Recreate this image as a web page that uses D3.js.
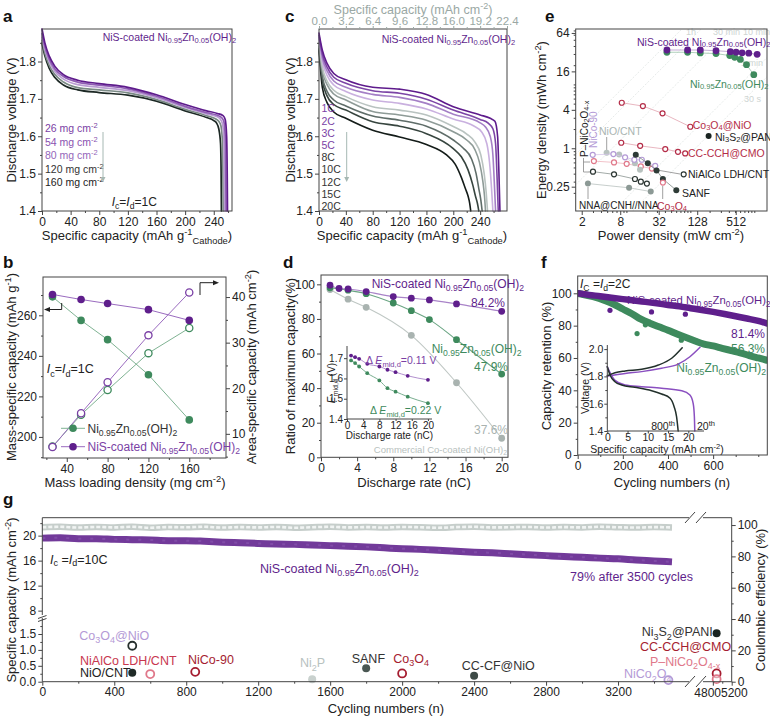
<!DOCTYPE html>
<html><head><meta charset="utf-8">
<script src="https://cdn.jsdelivr.net/npm/d3@7"></script>
<style>body{margin:0;background:#fff} svg{display:block}</style>
</head><body><svg id="c" width="770" height="718"></svg>
<script>
// ================= DATA =================
// Panel a: discharge curves (1C) for several mass loadings
const aLoadings = ['26', '54', '80', '120', '160'];
const aCapacity = [
  [0,4,10,18,30,50,80,120,160,200,230,245,253,256,258,258.8,259.2],
  [0,4,10,18,30,50,80,120,160,200,230,245,251,254,256,256.8,257.2],
  [0,4,10,18,30,50,80,120,160,200,230,245,249,252,254,254.8,255.2],
  [0,4,10,18,30,50,80,120,160,200,230,243,247,250,252,252.8,253.2],
  [0,4,10,18,30,50,80,120,160,200,230,240,244,247,249.5,250.3,250.7]];
const aVoltage = [
  [1.887,1.85,1.815,1.787,1.765,1.75,1.741,1.731,1.711,1.685,1.668,1.661,1.655,1.645,1.6,1.5,1.4],
  [1.875,1.84,1.807,1.78,1.76,1.745,1.737,1.727,1.707,1.68,1.663,1.656,1.65,1.64,1.6,1.5,1.4],
  [1.865,1.832,1.8,1.773,1.753,1.738,1.731,1.722,1.703,1.677,1.66,1.652,1.646,1.635,1.6,1.5,1.4],
  [1.857,1.823,1.79,1.765,1.745,1.73,1.724,1.716,1.698,1.672,1.655,1.646,1.64,1.628,1.59,1.5,1.4],
  [1.849,1.815,1.782,1.757,1.737,1.724,1.717,1.71,1.694,1.668,1.65,1.642,1.635,1.62,1.58,1.5,1.4]];
const aTicksX = [0,40,80,120,160,200,240];
const aTicksY = [1.4,1.5,1.6,1.7,1.8];

// Panel c: discharge curves at different rates
const cRates = ['1C','2C','3C','5C','8C','10C','12C','15C','20C'];
const cCapacity = [
  [0,5,12,22,40,80,120,160,200,240,255,262,266,268,269.5],
  [0,5,12,22,40,80,120,160,200,240,252,259,263,265,267],
  [0,5,12,22,40,80,120,160,200,240,248,255,259,261,263],
  [0,5,12,22,40,80,120,160,200,230,242,250,254,257,259],
  [0,5,12,22,40,80,120,160,200,220,232,241,246,249,251],
  [0,5,12,22,40,80,120,160,200,220,232,239,244,246.5,248],
  [0,5,12,22,40,80,120,160,200,215,227,234,238,241,243],
  [0,5,12,22,40,80,120,160,200,212,222,229,233,236,238],
  [0,5,12,22,40,80,120,160,190,203,212,218,222,224.5,226]];
const cVoltage = [
  [1.876,1.83,1.795,1.768,1.751,1.731,1.726,1.712,1.679,1.657,1.648,1.64,1.6,1.5,1.4],
  [1.87,1.82,1.785,1.758,1.742,1.722,1.715,1.699,1.67,1.645,1.635,1.62,1.58,1.5,1.4],
  [1.865,1.81,1.775,1.748,1.731,1.712,1.704,1.688,1.659,1.636,1.625,1.6,1.55,1.48,1.4],
  [1.86,1.8,1.763,1.737,1.72,1.697,1.688,1.673,1.646,1.628,1.612,1.58,1.53,1.46,1.4],
  [1.85,1.785,1.748,1.723,1.706,1.679,1.67,1.657,1.626,1.606,1.585,1.55,1.5,1.45,1.4],
  [1.845,1.775,1.738,1.713,1.697,1.666,1.657,1.643,1.612,1.59,1.565,1.53,1.48,1.44,1.4],
  [1.84,1.76,1.72,1.697,1.681,1.654,1.643,1.627,1.59,1.568,1.54,1.5,1.46,1.43,1.4],
  [1.835,1.75,1.708,1.685,1.67,1.639,1.627,1.607,1.567,1.545,1.51,1.47,1.44,1.42,1.4],
  [1.83,1.73,1.69,1.665,1.648,1.616,1.598,1.578,1.55,1.525,1.49,1.46,1.44,1.42,1.4]];
const cTopTicks = [0,3.2,6.4,9.6,12.8,16.0,19.2,22.4];

// Panel e: Ragone plot (power density mW cm-2, energy density mWh cm-2)
const eNiS_P = [43,90.5,143,252,422,519,644,820,1108];
const eNiS_E = [34.6,34.6,34.6,33.7,32.6,32.0,31.2,30.9,29.6];
const eNZ_P = [43,90.5,143,252,413,494,605,755,982];
const eNZ_E = [31.9,31.9,31.1,30.4,28.3,26.6,24.6,20.4,14.2];
const eCoNiO_P = [8.46,18.1,36.7,99.8], eCoNiO_E = [5.16,4.58,3.52,2.17];
const eCCCH_P = [8.3,16.4,40.5,64,83], eCCCH_E = [1.22,1.09,0.97,0.88,0.83];
const eNi3S2_P = [193], eNi3S2_E = [1.56];
const eNiCo90_P = [2.97,6.26,9.53,13.3,17.4,28.2], eNiCo90_E = [0.79,0.81,0.72,0.66,0.66,0.53];
const eNiOCNT_P = [4.9,7.7,13.6,16.3], eNiOCNT_E = [0.85,0.8,0.58,0.46];
const ePNiCo_P = [3.1,6.4,10.1,16.8,25], ePNiCo_E = [0.63,0.6,0.57,0.52,0.48];
const eNiAlCo_P = [3.0,6.4,13.6,16.8,20.9], eNiAlCo_E = [0.43,0.39,0.33,0.30,0.28];
const eSANF_P = [14,21.6,29.6,37.2,60.3], eSANF_E = [0.79,0.58,0.45,0.33,0.22];
const eNNA_P = [2.5,11,24], eNNA_E = [0.28,0.24,0.21];
const eCo3O4_P = [37.2], eCo3O4_E = [0.29];
const eNiAlCoTag_P = [78.6], eNiAlCoTag_E = [0.39];
const eTimeHours = [1, 0.5, 1/6, 1/60, 1/120];
const eTimeLabels = ['1h','30 min','10 min','1 min','30 s'];
const eTicksX = [2,8,32,128,512];
const eTicksY = [0.25,1,4,16,64];

// Panel b: capacity vs mass loading
const bLoading = [26,54,80,120,160];
const bMassNZ = [269.1,257.5,248.0,230.7,208.4];
const bMassNiS = [270.3,267.8,265.8,262.8,257.5];
const bAreaNZ = [7.2,14.2,19.6,27.7,33.2];
const bAreaNiS = [7.1,14.5,21.3,31.6,41.0];

// Panel d: rate capability
const dRate = [1,2,3,5,8,10,12,15,20];
const dNiS = [99.5,97.6,97.3,95.8,92.9,92.0,91.0,88.7,84.4];
const dRateNZ = [1,3,5,8,10,12,15,20];
const dNZ = [98.0,96.6,94.6,89.2,84.8,79.6,68.0,48.1];
const dRateCom = [1,3,5,10,15,20];
const dCom = [97.0,91.4,86.7,70.5,43.1,11.0];
const diNiS = [1.713,1.705,1.697,1.672,1.659,1.643,1.631,1.613,1.593];
const diNZ = [1.689,1.676,1.659,1.626,1.59,1.552,1.535,1.51,1.478];

// Panel f: cycling at 2C
const fCycNiS = [0,50,100,150,200,250,300,350,400,450,500,550,600,650,700,750,800,838];
const fNiS = [100,99,98.2,97.3,96.4,95.6,94.7,93.8,92.8,91.9,90.8,89.7,88.5,87.2,85.8,84.4,82.9,81.4];
const fCycNZ = [0,40,80,120,160,200,240,280,320,360,400,440,480,520,560,600,640,680,720,760,800,838];
const fNZ = [100,98.8,97.5,95.5,93.2,90.3,87.4,84,81.5,79.3,77.2,74.8,72.6,70.5,68.6,67.5,66,64.6,63.2,61.5,60,58.6];
const fOutCycNiS = [143,327,477], fOutNiS = [89.5,88.5,87.1];
const fOutCycNZ = [263,459,300], fOutNZ = [75.1,71.0,80.5];
// Panel f inset: voltage profiles (mAh cm-2, V)
const fiChg800Cap = [0,1.9,4.4,8.5,12.6,15.9,18.5], fiChg800V = [1.805,1.827,1.84,1.852,1.883,1.933,2.01];
const fiChg20Cap = [0,4.4,8.5,13.4,17.5,20.4,22.9], fiChg20V = [1.803,1.822,1.835,1.86,1.89,1.944,2.013];
const fiDis800Cap = [0,0.67,1.9,3.55,6.8,10.96,13.4,15.5,16.5,17.1,17.5];
const fiDis800V = [1.871,1.81,1.761,1.737,1.72,1.695,1.671,1.64,1.578,1.505,1.4];
const fiDis20Cap = [0,1.9,4.4,8.5,13.4,18.4,20.4,21.2,21.5,21.6];
const fiDis20V = [1.871,1.771,1.737,1.725,1.713,1.695,1.664,1.603,1.505,1.4];

// Panel g: long cycling at 10C
const gCycles = [0,100,200,300,400,500,600,700,800,900,1000,1100,1200,1300,1400,1500,1600,1700,1800,1900,2000,2100,2200,2300,2400,2500,2600,2700,2800,2900,3000,3100,3200,3300,3400,3500];
const gCapacity = [19.6,19.65,19.5,19.5,19.4,19.35,19.3,19.2,19.2,19.1,18.95,18.85,18.75,18.65,18.6,18.5,18.4,18.3,18.2,18.05,17.9,17.8,17.65,17.5,17.35,17.25,17.1,16.95,16.8,16.65,16.55,16.4,16.3,16.1,15.95,15.8];
const gEfficiency = [98.6,98.9,98.4,98.8,98.5,98.9,98.3,98.7,98.6,98.9,98.4,98.7,98.5,98.8,98.3,98.6,98.9,98.5,98.7,98.4,98.8,98.6,98.3,98.7,98.9,98.5,98.6,98.8,98.4,98.7,98.5,98.9,98.6,98.4,98.7,98.5];
const gRefNames = ['Co_{3}O_{4}@NiO','NiO/CNT','NiAlCo LDH/CNT','NiCo-90','Ni_{2}P','SANF','Co_{3}O_{4}','CC-CF@NiO','NiCo_{2}O_{4}','Ni_{3}S_{2}@PANI','CC-CCH@CMO','P\u2013NiCo_{2}O_{4-x}'];
const gRefCycles = [500,500,600,850,1500,1800,2000,2400,3480,4880,4880,4880];
const gRefCapacity = [1.13,0.28,0.24,0.31,0.08,0.42,0.26,0.19,0.05,1.52,0.26,0.08];
const gTicksX = [0,400,800,1200,1600,2000,2400,2800,3200];

// ================= DRAWING =================
const FONT = "'Liberation Sans', Arial, Helvetica, sans-serif";
const PUR = '#5f1f8c', GRN = '#3e8a5d', GRY = '#a9b3b0', CRIM = '#b42d48', DRED = '#a51d30',
      PINK = '#e0788a', LPUR = '#b49ad6', DARK = '#26302d';
const TF = 13, KF = 12; // title / tick font sizes
const svg = d3.select('#c').attr('font-family', FONT);
svg.append('rect').attr('width', 770).attr('height', 718).attr('fill', '#fff');

function rt(x, y, str, o = {}) {
  const fs = o.fs || 12;
  const t = svg.append('text').attr('x', x).attr('y', y).attr('font-size', fs)
    .attr('fill', o.fill || '#222').attr('text-anchor', o.anchor || 'start').attr('font-family', FONT);
  if (o.rot) t.attr('transform', `rotate(${o.rot},${x},${y})`);
  if (o.bold) t.attr('font-weight', 'bold');
  const re = /([_^*])\{([^}]*)\}/g;
  let last = 0, m, shift = 0;
  const sub = o.sub === undefined ? 0.28 : o.sub;
  const add = (s, type) => {
    if (!s) return;
    const ts = t.append('tspan').text(s);
    let target = 0;
    if (type === '_') { ts.attr('font-size', fs * 0.72); target = fs * sub; }
    else if (type === '^') { ts.attr('font-size', fs * 0.72); target = -fs * 0.38; }
    else if (type === '*') ts.attr('font-style', 'italic');
    if (target !== shift) { ts.attr('dy', target - shift); shift = target; }
  };
  while ((m = re.exec(str))) { add(str.slice(last, m.index), null); add(m[2], m[1]); last = re.lastIndex; }
  add(str.slice(last), null);
  return t;
}
function ax(orient, scale, pos, ticks, o = {}) {
  const a = orient === 'b' ? d3.axisBottom(scale) : orient === 'l' ? d3.axisLeft(scale)
          : orient === 'r' ? d3.axisRight(scale) : d3.axisTop(scale);
  a.tickValues(ticks).tickSize(o.size || 4).tickPadding(o.pad === undefined ? 2 : o.pad).tickSizeOuter(0);
  a.tickFormat(o.fmt || d3.format('d'));
  const tr = (orient === 'b' || orient === 't') ? `translate(0,${pos})` : `translate(${pos},0)`;
  const g = svg.append('g').attr('transform', tr).call(a);
  g.select('.domain').remove();
  g.selectAll('line').attr('stroke', o.color || '#444');
  g.selectAll('text').attr('font-size', o.fs || KF).attr('fill', o.tc || '#222').attr('font-family', FONT);
  return g;
}
function minor(orient, scale, pos, ticks, o = {}) {
  return ax(orient, scale, pos, ticks, Object.assign({}, o, { size: o.size || 2, fmt: () => '' }));
}
function frame(x0, y0, x1, y1) {
  svg.append('rect').attr('x', x0).attr('y', y0).attr('width', x1 - x0).attr('height', y1 - y0)
    .attr('fill', 'none').attr('stroke', '#444').attr('stroke-width', 1);
}
function path(pts, xs, ys, color, w, curve) {
  svg.append('path').datum(pts)
    .attr('d', d3.line().x(d => xs(d[0])).y(d => ys(d[1])).curve(curve || d3.curveMonotoneX))
    .attr('fill', 'none').attr('stroke', color).attr('stroke-width', w).attr('stroke-linejoin', 'round').attr('stroke-linecap', 'round');
}
function dots(xsArr, ysArr, xs, ys, r, fill, stroke, sw) {
  svg.append('g').selectAll('circle').data(xsArr.map((v, i) => [v, ysArr[i]])).join('circle')
    .attr('cx', d => xs(d[0])).attr('cy', d => ys(d[1])).attr('r', r)
    .attr('fill', fill).attr('stroke', stroke || 'none').attr('stroke-width', sw || 0);
}
function zip(a, b) { return a.map((v, i) => [v, b[i]]); }
function arrowDown(x, y0, y1, color) {
  svg.append('line').attr('x1', x).attr('x2', x).attr('y1', y0).attr('y2', y1 - 4).attr('stroke', color).attr('stroke-width', 1);
  svg.append('path').attr('d', `M${x - 2.5},${y1 - 5}L${x + 2.5},${y1 - 5}L${x},${y1}Z`).attr('fill', color);
}
const NIS = 'NiS-coated Ni_{0.95}Zn_{0.05}(OH)_{2}';
const NZ = 'Ni_{0.95}Zn_{0.05}(OH)_{2}';
const f1 = d3.format('.1f');

// ---------- Panel a ----------
{
  const xs = d3.scaleLinear().domain([0, 265.5]).range([42, 232]);
  const ys = d3.scaleLinear().domain([1.4, 1.887]).range([211, 29]);
  const cols = ['#5e1b8c', '#8f5cb4', '#b99dd2', '#7a8a85', '#1c2824'];
  for (let i = aCapacity.length - 1; i >= 0; i--) path(zip(aCapacity[i], aVoltage[i]), xs, ys, cols[i], 1.7);
  frame(42, 29, 232, 211);
  ax('b', xs, 211, aTicksX); minor('b', xs, 211, [20,60,100,140,180,220,260]);
  ax('l', ys, 42, aTicksY, { fmt: f1 }); minor('l', ys, 42, [1.45,1.55,1.65,1.75,1.85]);
  rt(102.7, 40.5, NIS, { fs: 10.5, fill: PUR });
  const lc = ['#7b3fa5', '#8a52b0', '#9466ba', '#333', '#222'];
  aLoadings.forEach((l, i) => rt(45, 132 + i * 13.5, l + ' mg cm^{-2}', { fs: 10.5, fill: lc[i] }));
  arrowDown(103, 132, 182, '#a6b8b3');
  rt(111.7, 206, '*{I}_{c}=*{I}_{d}=1C', { fs: 12 });
  rt(16, 120, 'Discharge voltage (V)', { fs: TF, anchor: 'middle', rot: -90 });
  rt(137, 240, 'Specific capacity (mAh g^{-1}_{Cathode})', { fs: TF, anchor: 'middle' });
  rt(3, 22, 'a', { fs: 17, bold: true, fill: '#111' });
}

// ---------- Panel c ----------
{
  const xs = d3.scaleLinear().domain([0, 280]).range([319, 507]);
  const xt = d3.scaleLinear().domain([0, 22.4]).range([319, 507]);
  const ys = d3.scaleLinear().domain([1.4, 1.887]).range([211, 29]);
  const cols = ['#5e1b8c','#7c45a6','#a47fc6','#c9b0df','#b9c3c0','#8e9b97','#5f6d69','#37453f','#141c19'];
  for (let i = cCapacity.length - 1; i >= 0; i--) path(zip(cCapacity[i], cVoltage[i]), xs, ys, cols[i], 1.6);
  frame(319, 29, 507, 211);
  ax('b', xs, 211, aTicksX); minor('b', xs, 211, [20,60,100,140,180,220,260]);
  ax('l', ys, 319, aTicksY, { fmt: f1 }); minor('l', ys, 319, [1.45,1.55,1.65,1.75,1.85]);
  ax('t', xt, 29, cTopTicks, { fmt: f1, color: '#9aa8a4', tc: '#9aa8a4', fs: 11.5, size: 3, pad: 1 });
  minor('t', xt, 29, [1.6,4.8,8,11.2,14.4,17.6,20.8], { color: '#9aa8a4' });
  rt(413, 14, 'Specific capacity (mAh cm^{-2})', { fs: 12.5, anchor: 'middle', fill: '#9aa8a4' });
  rt(381.7, 42.5, NIS, { fs: 10.5, fill: PUR });
  cRates.forEach((r, i) => rt(321.5, 112.3 + i * 12.2, r, { fs: 10.5, fill: i < 4 ? '#7b3fa5' : '#333' }));
  arrowDown(346.7, 132, 182, '#a6b8b3');
  rt(295, 120, 'Discharge voltage (V)', { fs: TF, anchor: 'middle', rot: -90 });
  rt(412, 240, 'Specific capacity (mAh g^{-1}_{Cathode})', { fs: TF, anchor: 'middle' });
  rt(285, 22, 'c', { fs: 17, bold: true, fill: '#111' });
}

// ---------- Panel e ----------
{
  const xs = d3.scaleLog().base(2).domain([1.61, 1580]).range([575.7, 767]);
  const ys = d3.scaleLog().base(2).domain([0.104, 73.8]).range([211, 29]);
  svg.append('clipPath').attr('id', 'clipE').append('rect').attr('x', 575.7).attr('y', 29).attr('width', 191.3).attr('height', 182);
  const tl = svg.append('g').attr('clip-path', 'url(#clipE)');
  eTimeHours.forEach(t => {
    tl.append('line').attr('x1', xs(1.61)).attr('y1', ys(1.61 * t)).attr('x2', xs(1580)).attr('y2', ys(1580 * t))
      .attr('stroke', '#e3e8e6').attr('stroke-width', 0.9).attr('stroke-dasharray', '2,1.5');
  });
  const tlPos = [[686, 35], [713, 35], [743, 35], [741, 66], [744, 102]];
  eTimeLabels.forEach((l, i) => rt(tlPos[i][0], tlPos[i][1], l, { fs: 9, fill: '#cdd4d2' }));
  const ser = (P, E, color, fill, lc) => {
    path(zip(P, E), xs, ys, lc || color, 0.8, d3.curveLinear);
    dots(P, E, xs, ys, fill === 'open' ? 2.5 : 3, fill === 'open' ? '#fff' : color, fill === 'open' ? color : 'none', 1.2);
  };
  const cl = (pts) => svg.append('path').attr('d', d3.line()(pts)).attr('fill', 'none').attr('stroke', '#888').attr('stroke-width', 0.8);
  cl([[583.5, 158], [583.5, 172], [590, 172]]); cl([[583.5, 162], [590, 162]]);
  cl([[606.7, 137], [606.7, 150]]);
  cl([[662.7, 186], [662.7, 199]]);
  cl([[657, 170], [680, 174]]);
  cl([[588, 187], [588, 199]]);
  ser(eNNA_P, eNNA_E, '#8c9995', 'filled', '#b9c2bf');
  ser(eNiAlCo_P, eNiAlCo_E, '#2b3532', 'open', '#8a9491');
  ser(ePNiCo_P, ePNiCo_E, PINK, 'open', '#efb4bd');
  ser(eNiOCNT_P, eNiOCNT_E, '#b8c2bf', 'filled', '#d5dbd9');
  ser(eNiCo90_P, eNiCo90_E, LPUR, 'open', '#d5c6ea');
  ser(eSANF_P, eSANF_E, '#2e3b37', 'filled', '#7d8885');
  ser(eCo3O4_P, eCo3O4_E, PINK, 'open');
  ser(eNiAlCoTag_P, eNiAlCoTag_E, '#2b3532', 'open');
  ser(eCCCH_P, eCCCH_E, CRIM, 'open', '#e2a3b0');
  ser(eCoNiO_P, eCoNiO_E, CRIM, 'open', '#e2a3b0');
  ser(eNi3S2_P, eNi3S2_E, '#1a2421', 'filled');
  path(zip(eNZ_P, eNZ_E), xs, ys, '#9cc4ab', 0.8, d3.curveLinear);
  dots(eNZ_P, eNZ_E, xs, ys, 3.4, GRN);
  path(zip(eNiS_P, eNiS_E), xs, ys, '#b69bcb', 0.8, d3.curveLinear);
  dots(eNiS_P, eNiS_E, xs, ys, 3.4, PUR);
  frame(575.7, 29, 767, 211);
  const lab = v => String(v);
  ax('b', xs, 211, eTicksX, { fmt: lab });
  minor('b', xs, 211, [3,4,5,6,7,9,10,20,30,40,50,60,70,80,90,100,200,300,400,500,600,700,800,900,1000]);
  ax('l', ys, 575.7, eTicksY, { fmt: lab });
  minor('l', ys, 575.7, [0.2,0.3,0.4,0.5,0.6,0.7,0.8,0.9,2,3,5,6,7,8,9,10,20,30,40,50,60,70]);
  rt(637, 46, NIS, { fs: 10.5, fill: PUR, sub: 0.1 });
  rt(690, 87.5, NZ, { fs: 10.5, fill: GRN, sub: 0.1 });
  rt(692.7, 129, 'Co_{3}O_{4}@NiO', { fs: 10.5, fill: CRIM, sub: 0.1 });
  rt(715, 140.5, 'Ni_{3}S_{2}@PANI', { fs: 10.5, fill: '#222', sub: 0.1 });
  rt(688, 157, 'CC-CCH@CMO', { fs: 10.5, fill: CRIM });
  rt(688, 178, 'NiAlCo LDH/CNT', { fs: 10.5, fill: '#222' });
  rt(682, 196.5, 'SANF', { fs: 10.5, fill: '#222' });
  rt(579, 208.5, 'NNA@CNH//NNA', { fs: 10, fill: '#222' });
  rt(657, 209.5, 'Co_{3}O_{4}', { fs: 10.5, fill: CRIM, sub: 0.1 });
  rt(599, 134.5, 'NiO/CNT', { fs: 10.5, fill: '#aab5b2' });
  rt(587.5, 157, 'P\u2013NiCo_{2}O_{4-x}', { fs: 10, fill: '#222', rot: -90, sub: 0.1 });
  rt(597, 148, 'NiCo-90', { fs: 10, fill: LPUR, rot: -90 });
  rt(546, 120, 'Energy density (mWh cm^{-2})', { fs: TF, anchor: 'middle', rot: -90 });
  rt(671, 240, 'Power density (mW cm^{-2})', { fs: TF, anchor: 'middle' });
  rt(545, 22, 'e', { fs: 17, bold: true, fill: '#111' });
}

// ---------- Panel b ----------
{
  const xs = d3.scaleLinear().domain([16.7, 196]).range([43, 226]);
  const yl = d3.scaleLinear().domain([189.6, 278.9]).range([458, 277]);
  const yr = d3.scaleLinear().domain([4.7, 44.4]).range([458, 277]);
  path(zip(bLoading, bAreaNZ), xs, yr, '#7fb393', 1, d3.curveLinear);
  path(zip(bLoading, bAreaNiS), xs, yr, '#9a6bbf', 1, d3.curveLinear);
  path(zip(bLoading, bMassNZ), xs, yl, '#7fb393', 1, d3.curveLinear);
  path(zip(bLoading, bMassNiS), xs, yl, '#9a6bbf', 1, d3.curveLinear);
  dots(bLoading, bAreaNZ, xs, yr, 3.6, '#fff', GRN, 1.3);
  dots(bLoading, bAreaNiS, xs, yr, 3.6, '#fff', '#7a3fa5', 1.3);
  dots(bLoading, bMassNZ, xs, yl, 3.8, GRN);
  dots(bLoading, bMassNiS, xs, yl, 3.8, PUR);
  frame(43, 277, 226, 458);
  ax('b', xs, 458, [40,80,120,160]); minor('b', xs, 458, [20,60,100,140,180]);
  ax('l', yl, 43, [200,220,240,260]); minor('l', yl, 43, [190,210,230,250,270]);
  ax('r', yr, 226, [10,20,30,40]); minor('r', yr, 226, [5,15,25,35]);
  svg.append('path').attr('d', 'M61.7,303V309.5H50').attr('fill', 'none').attr('stroke', '#222');
  svg.append('path').attr('d', 'M50,307L44,309.5L50,312Z').attr('fill', '#222');
  svg.append('path').attr('d', 'M200,295V282.7H213').attr('fill', 'none').attr('stroke', '#222');
  svg.append('path').attr('d', 'M213,280.2L219,282.7L213,285.2Z').attr('fill', '#222');
  svg.append('line').attr('x1', 61).attr('x2', 85).attr('y1', 428.3).attr('y2', 428.3).attr('stroke', '#7fb393');
  svg.append('circle').attr('cx', 73).attr('cy', 428.3).attr('r', 3.8).attr('fill', GRN);
  rt(87.5, 432.5, NZ, { fs: 12, fill: '#333' });
  svg.append('line').attr('x1', 61).attr('x2', 85).attr('y1', 446.7).attr('y2', 446.7).attr('stroke', '#9a6bbf');
  svg.append('circle').attr('cx', 73).attr('cy', 446.7).attr('r', 3.8).attr('fill', PUR);
  rt(87.5, 451, NIS, { fs: 12, fill: '#7a3fa5' });
  rt(46.7, 373, '*{I}_{c}=*{I}_{d}=1C', { fs: 12.5 });
  rt(16, 367, 'Mass-specific capacity (mAh g^{-1})', { fs: TF, anchor: 'middle', rot: -90 });
  rt(256, 367, 'Area-specific capacity (mAh cm^{-2})', { fs: TF, anchor: 'middle', rot: -90 });
  rt(135, 486.5, 'Mass loading density (mg cm^{-2})', { fs: TF, anchor: 'middle' });
  rt(3, 268, 'b', { fs: 17, bold: true, fill: '#111' });
}

// ---------- Panel d ----------
{
  const xs = d3.scaleLinear().domain([0, 20.7]).range([321, 508]);
  const ys = d3.scaleLinear().domain([0, 105.4]).range([457.3, 275]);
  path(zip(dRateCom, dCom), xs, ys, '#bfc7c4', 1.1);
  path(zip(dRateNZ, dNZ), xs, ys, '#6aa583', 1.1);
  path(zip(dRate, dNiS), xs, ys, '#a983c8', 1.1);
  dots(dRateCom, dCom, xs, ys, 3.4, GRY);
  dots(dRateNZ, dNZ, xs, ys, 3.4, GRN);
  dots(dRate, dNiS, xs, ys, 3.4, PUR);
  frame(321, 275, 508, 457.3);
  ax('b', xs, 457.3, [0,4,8,12,16,20]); minor('b', xs, 457.3, [2,6,10,14,18]);
  ax('l', ys, 321, [0,20,40,60,80,100]); minor('l', ys, 321, [10,30,50,70,90]);
  rt(371.7, 287.5, NIS, { fs: 12, fill: PUR });
  rt(505, 307, '84.2%', { fs: 12, fill: PUR, anchor: 'end' });
  rt(431.7, 352.5, NZ, { fs: 12, fill: GRN });
  rt(508, 370.5, '47.9%', { fs: 12, fill: GRN, anchor: 'end' });
  rt(508, 433.5, '37.6%', { fs: 12, fill: GRY, anchor: 'end' });
  rt(507, 452.5, 'Commercial Co-coated Ni(OH)_{2}', { fs: 9.5, fill: '#b8c1be', anchor: 'end' });
  const xi = d3.scaleLinear().domain([0, 21]).range([347, 432]);
  const yi = d3.scaleLinear().domain([1.4, 1.76]).range([419, 346]);
  path(zip(dRate, diNiS), xi, yi, '#a983c8', 0.9);
  path(zip(dRate, diNZ), xi, yi, '#6aa583', 0.9);
  dots(dRate, diNiS, xi, yi, 1.9, PUR);
  dots(dRate, diNZ, xi, yi, 1.9, GRN);
  svg.append('path').attr('d', 'M347,346V419H432').attr('fill', 'none').attr('stroke', '#444');
  ax('b', xi, 419, [0,4,8,12,16,20], { fs: 10, size: 2, pad: 0.5 });
  ax('l', yi, 347, [1.4,1.5,1.6,1.7], { fs: 10, size: 3, pad: 1, fmt: f1 });
  rt(366, 364, '\u0394 *{E}_{mid,d}=0.11 V', { fs: 10.5, fill: '#7a3fa5' });
  rt(370, 414, '\u0394 *{E}_{mid,d}=0.22 V', { fs: 10.5, fill: GRN });
  rt(335, 383, '*{E}_{mid,d} (V)', { fs: 10, anchor: 'middle', rot: -90 });
  rt(389.5, 439, 'Discharge rate (nC)', { fs: 10, anchor: 'middle' });
  rt(295, 366, 'Ratio of maximum capacity(%)', { fs: TF, anchor: 'middle', rot: -90 });
  rt(414, 486.5, 'Discharge rate (nC)', { fs: TF, anchor: 'middle' });
  rt(283, 268, 'd', { fs: 17, bold: true, fill: '#111' });
}

// ---------- Panel f ----------
{
  const xs = d3.scaleLinear().domain([0, 840]).range([577.7, 767.3]);
  const ys = d3.scaleLinear().domain([0, 110.7]).range([455, 276]);
  svg.append('clipPath').attr('id', 'clipF').append('rect').attr('x', 577.7).attr('y', 276).attr('width', 189.6).attr('height', 179);
  const gcl = svg.append('g').attr('clip-path', 'url(#clipF)');
  const band = (c, v, color, w) => gcl.append('path').datum(zip(c, v))
    .attr('d', d3.line().x(d => xs(d[0])).y(d => ys(d[1])).curve(d3.curveMonotoneX))
    .attr('fill', 'none').attr('stroke', color).attr('stroke-width', w).attr('stroke-linecap', 'round');
  band(fCycNZ, fNZ, GRN, 7);
  band(fCycNiS, fNiS, PUR, 6.5);
  dots(fOutCycNZ, fOutNZ, xs, ys, 2.6, GRN);
  dots(fOutCycNiS, fOutNiS, xs, ys, 2.6, PUR);
  frame(577.7, 276, 767.3, 455);
  ax('b', xs, 455, [0,200,400,600]); minor('b', xs, 455, [100,300,500,700,800]);
  ax('l', ys, 577.7, [0,20,40,60,80,100]); minor('l', ys, 577.7, [10,30,50,70,90]);
  rt(580, 287.5, '*{I}_{C} =*{I}_{d}=2C', { fs: 12 });
  rt(627, 303.5, NIS, { fs: 11.3, fill: PUR });
  rt(765, 337.5, '81.4%', { fs: 12, fill: PUR, anchor: 'end' });
  rt(765, 352.5, '56.3%', { fs: 12, fill: GRN, anchor: 'end' });
  rt(766, 372, NZ, { fs: 12, fill: GRN, anchor: 'end' });
  const xi = d3.scaleLinear().domain([0, 24]).range([607.3, 704.5]);
  const yi = d3.scaleLinear().domain([1.4, 2.03]).range([431, 345]);
  path(zip(fiChg20Cap, fiChg20V), xi, yi, '#8a4fc0', 1.5);
  path(zip(fiDis20Cap, fiDis20V), xi, yi, '#8a4fc0', 1.5);
  path(zip(fiChg800Cap, fiChg800V), xi, yi, '#22302b', 1.5);
  path(zip(fiDis800Cap, fiDis800V), xi, yi, '#22302b', 1.5);
  svg.append('path').attr('d', 'M607.3,345V431H704').attr('fill', 'none').attr('stroke', '#444');
  ax('b', xi, 431, [0,5,10,15,20], { fs: 10.5, size: 2.5, pad: 0.5 });
  ax('l', yi, 607.3, [1.4,1.6,1.8,2.0], { fs: 10.5, size: 3, pad: 1, fmt: f1 });
  minor('l', yi, 607.3, [1.5,1.7,1.9]);
  rt(675, 429.5, '800^{th}', { fs: 10.5, anchor: 'end' });
  rt(697, 429.5, '20^{th}', { fs: 10.5 });
  rt(589, 388, 'Voltage (V)', { fs: 10.5, anchor: 'middle', rot: -90 });
  rt(657, 453, 'Specific capacity (mAh cm^{-2})', { fs: 10.5, anchor: 'middle' });
  rt(551, 366, 'Capacity retention (%)', { fs: TF, anchor: 'middle', rot: -90 });
  rt(672, 486.5, 'Cycling numbers (n)', { fs: TF, anchor: 'middle' });
  rt(541, 268, 'f', { fs: 17, bold: true, fill: '#111' });
}

// ---------- Panel g ----------
{
  const xs = d3.scaleLinear().domain([0, 3600, 4570, 5200]).range([42.3, 690, 702, 731.7]);
  const ylo = d3.scaleLinear().domain([0, 2.0]).range([681.7, 618.1]);
  const yhi = d3.scaleLinear().domain([7.3, 22.9]).range([615, 517.5]);
  const yr = d3.scaleLinear().domain([0, 104.7]).range([681.7, 517.7]);
  const ce = zip(gCycles, gEfficiency);
  const ln = d3.line().x(d => xs(d[0])).y(d => yr(d[1])).curve(d3.curveMonotoneX);
  svg.append('path').datum(ce).attr('d', ln).attr('fill', 'none').attr('stroke', '#c6cecb').attr('stroke-width', 6.5);
  svg.append('path').datum(ce).attr('d', ln).attr('fill', 'none').attr('stroke', '#f1f4f3').attr('stroke-width', 2.6).attr('stroke-dasharray', '4,2');
  const lc = d3.line().x(d => xs(d[0])).y(d => yhi(d[1])).curve(d3.curveMonotoneX);
  svg.append('path').datum(zip(gCycles, gCapacity)).attr('d', lc).attr('fill', 'none')
    .attr('stroke', PUR).attr('stroke-width', 7).attr('opacity', 0.88);
  svg.append('path').datum(zip(gCycles, gCapacity)).attr('d', lc).attr('fill', 'none')
    .attr('stroke', '#8a56b0').attr('stroke-width', 2).attr('stroke-dasharray', '3,9').attr('opacity', 0.6);
  const st = {
    'Co_{3}O_{4}@NiO': ['open', DARK, LPUR, 79.3, 639.5],
    'NiO/CNT': ['filled', '#1f2a27', '#222', 80, 677],
    'NiAlCo LDH/CNT': ['open', PINK, '#c8374f', 80, 664.5],
    'NiCo-90': ['open', DRED, DRED, 188, 663.5],
    'Ni_{2}P': ['filled', '#c9d1ce', '#b8c2bf', 300, 667],
    'SANF': ['filled', '#4a5753', '#333', 351.7, 662.5],
    'Co_{3}O_{4}': ['open', DRED, DRED, 393.3, 662.5],
    'CC-CF@NiO': ['filled', '#3e4b47', '#333', 461.7, 669.5],
    'NiCo_{2}O_{4}': ['open', LPUR, LPUR, 624, 678],
    'Ni_{3}S_{2}@PANI': ['filled', '#1a2421', '#333', 641.7, 636],
    'CC-CCH@CMO': ['open', DRED, DRED, 640, 651],
    'P\u2013NiCo_{2}O_{4-x}': ['open', PINK, PINK, 650, 665.5]
  };
  gRefNames.forEach((n, i) => {
    const s = st[n];
    svg.append('circle').attr('cx', xs(gRefCycles[i])).attr('cy', ylo(gRefCapacity[i])).attr('r', 4)
      .attr('fill', s[0] === 'open' ? '#fff' : s[1]).attr('stroke', s[1]).attr('stroke-width', s[0] === 'open' ? 1.8 : 0)
      .attr('fill-opacity', s[0] === 'open' ? 0.6 : 1);
    rt(s[3], s[4], n, { fs: 12.5, fill: s[2] });
  });
  const ln2 = (pts, c, w) => svg.append('path').attr('d', d3.line()(pts)).attr('fill', 'none').attr('stroke', c || '#444').attr('stroke-width', w || 1);
  ln2([[42.3, 517.7], [689, 517.7]]); ln2([[703, 517.7], [731.7, 517.7]]);
  ln2([[42.3, 681.7], [689, 681.7]]); ln2([[703, 681.7], [731.7, 681.7]]);
  ln2([[42.3, 681.7], [42.3, 618.1]]); ln2([[42.3, 615], [42.3, 517.7]]);
  ln2([[731.7, 517.7], [731.7, 681.7]]);
  [[685, 695], [696, 706]].forEach(([a, b]) => {
    ln2([[a, 523], [b, 512]]); ln2([[a, 687], [b, 676]]);
  });
  ln2([[38, 618.5], [46.5, 615.5]]); ln2([[38, 621.5], [46.5, 618.5]]);
  ax('b', xs, 681.7, gTicksX); minor('b', xs, 681.7, [200,600,1000,1400,1800,2200,2600,3000,3400,5000]);
  minor('b', xs, 681.7, [4800, 5200], { size: 4 });
  rt(721, 697, '4800', { fs: KF, anchor: 'end' });
  rt(721, 697, '5200', { fs: KF });
  ax('l', ylo, 42.3, [0, 0.5, 1.0, 1.5], { fmt: f1 }); minor('l', ylo, 42.3, [0.25, 0.75, 1.25, 1.75]);
  ax('l', yhi, 42.3, [8, 12, 16, 20]); minor('l', yhi, 42.3, [10, 14, 18, 22]);
  ax('r', yr, 731.7, [0,20,40,60,80,100]); minor('r', yr, 731.7, [10,30,50,70,90]);
  rt(50, 563.5, '*{I}_{c} =*{I}_{d}=10C', { fs: 12.5, sub: 0.18 });
  rt(260, 572.5, NIS, { fs: 12.5, fill: PUR });
  rt(570, 580.5, '79% after 3500 cycles', { fs: 12.5, fill: PUR });
  rt(16, 600, 'Specific capacity (mAh cm^{-2})', { fs: TF, anchor: 'middle', rot: -90 });
  rt(765, 600, 'Coulombic efficiency (%)', { fs: TF, anchor: 'middle', rot: -90 });
  rt(386, 713, 'Cycling numbers (n)', { fs: TF, anchor: 'middle' });
  rt(3, 505, 'g', { fs: 17, bold: true, fill: '#111' });
}
</script></body></html>
